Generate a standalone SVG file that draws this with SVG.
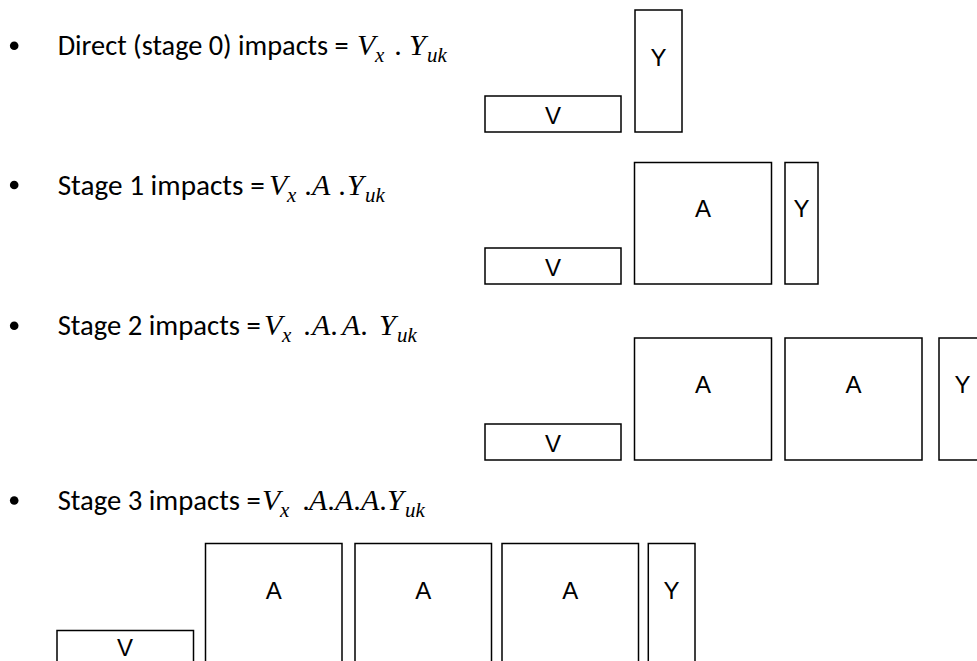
<svg xmlns="http://www.w3.org/2000/svg" width="977" height="661" viewBox="0 0 977 661">
<style>
.bg{fill:#fff}
.box{fill:#fff;stroke:#000;stroke-width:1.5}
.lbl{font-family:"Liberation Sans",Arial,sans-serif;font-size:24px;fill:#000;text-anchor:middle}
.txt{font-family:Carlito,Lato,"Liberation Sans",sans-serif;font-size:28px;fill:#000}
.m{font-family:"Liberation Serif","Times New Roman",serif;font-style:italic;font-size:30px;fill:#000}
.sub{font-family:"Liberation Serif","Times New Roman",serif;font-style:italic;font-size:21px;fill:#000}
.dot{font-family:"Liberation Serif","Times New Roman",serif;font-size:30px;fill:#000;text-anchor:middle}
.bul{fill:#000}
</style>
<rect class="bg" x="0" y="0" width="977" height="661"/>

<g id="line0">
  <circle class="bul" cx="14.2" cy="45.7" r="4.3"/>
  <text class="txt" x="57.7" y="55" textLength="291" lengthAdjust="spacingAndGlyphs">Direct (stage 0) impacts =</text>
  <text class="m" x="357" y="55">V</text><text class="sub" x="375" y="62">x</text>
  <text class="dot" x="398" y="55">.</text>
  <text class="m" x="409" y="55">Y</text><text class="sub" x="427" y="62">uk</text>
</g>
<g id="stage0">
  <g id="s0-V"><rect class="box" x="485" y="96" width="136" height="36"/><text class="lbl" x="553" y="124">V</text></g>
  <g id="s0-Y"><rect class="box" x="635" y="10" width="47" height="122"/><text class="lbl" x="658.5" y="65.5">Y</text></g>
</g>

<g id="line1">
  <circle class="bul" cx="14.2" cy="185" r="4.3"/>
  <text class="txt" x="57.7" y="195" textLength="207" lengthAdjust="spacingAndGlyphs">Stage 1 impacts =</text>
  <text class="m" x="269" y="195">V</text><text class="sub" x="287" y="202">x</text>
  <text class="dot" x="308" y="195">.</text>
  <text class="m" x="312" y="195">A</text>
  <text class="dot" x="342" y="195">.</text>
  <text class="m" x="347" y="195">Y</text><text class="sub" x="365" y="202">uk</text>
</g>
<g id="stage1">
  <g id="s1-V"><rect class="box" x="485" y="248" width="136" height="36"/><text class="lbl" x="553" y="276">V</text></g>
  <g id="s1-A"><rect class="box" x="634.5" y="162.5" width="137" height="121.5"/><text class="lbl" x="703" y="217">A</text></g>
  <g id="s1-Y"><rect class="box" x="785" y="162.5" width="33" height="121.5"/><text class="lbl" x="801.5" y="217">Y</text></g>
</g>

<g id="line2">
  <circle class="bul" cx="14.2" cy="325.7" r="4.3"/>
  <text class="txt" x="57.7" y="335" textLength="203" lengthAdjust="spacingAndGlyphs">Stage 2 impacts =</text>
  <text class="m" x="264" y="335">V</text><text class="sub" x="282" y="342">x</text>
  <text class="dot" x="307" y="335">.</text>
  <text class="m" x="312" y="335">A</text>
  <text class="dot" x="334" y="335">.</text>
  <text class="m" x="342" y="335">A</text>
  <text class="dot" x="364" y="335">.</text>
  <text class="m" x="379" y="335">Y</text><text class="sub" x="397" y="342">uk</text>
</g>
<g id="stage2">
  <g id="s2-V"><rect class="box" x="485" y="424" width="136" height="36"/><text class="lbl" x="553" y="452">V</text></g>
  <g id="s2-A1"><rect class="box" x="634.5" y="338" width="137" height="122"/><text class="lbl" x="703" y="393">A</text></g>
  <g id="s2-A2"><rect class="box" x="785" y="338" width="137" height="122"/><text class="lbl" x="853.5" y="393">A</text></g>
  <g id="s2-Y"><rect class="box" x="939" y="338" width="47" height="122"/><text class="lbl" x="962.5" y="393">Y</text></g>
</g>

<g id="line3">
  <circle class="bul" cx="14.2" cy="500.5" r="4.3"/>
  <text class="txt" x="57.7" y="510" textLength="203" lengthAdjust="spacingAndGlyphs">Stage 3 impacts =</text>
  <text class="m" x="262" y="510">V</text><text class="sub" x="280" y="517">x</text>
  <text class="dot" x="306" y="510">.</text>
  <text class="m" x="309" y="510">A</text>
  <text class="dot" x="331" y="510">.</text>
  <text class="m" x="335" y="510">A</text>
  <text class="dot" x="357" y="510">.</text>
  <text class="m" x="361" y="510">A</text>
  <text class="dot" x="383" y="510">.</text>
  <text class="m" x="387" y="510">Y</text><text class="sub" x="405" y="517">uk</text>
</g>
<g id="stage3">
  <g id="s3-V"><rect class="box" x="57" y="630.5" width="136.5" height="40"/><text class="lbl" x="125" y="656">V</text></g>
  <g id="s3-A1"><rect class="box" x="205.5" y="543.5" width="136.5" height="130"/><text class="lbl" x="273.7" y="598.5">A</text></g>
  <g id="s3-A2"><rect class="box" x="355" y="543.5" width="136.5" height="130"/><text class="lbl" x="423.2" y="598.5">A</text></g>
  <g id="s3-A3"><rect class="box" x="502" y="543.5" width="136.5" height="130"/><text class="lbl" x="570.2" y="598.5">A</text></g>
  <g id="s3-Y"><rect class="box" x="648.3" y="543.5" width="46.7" height="130"/><text class="lbl" x="671.6" y="598.5">Y</text></g>
</g>
</svg>
